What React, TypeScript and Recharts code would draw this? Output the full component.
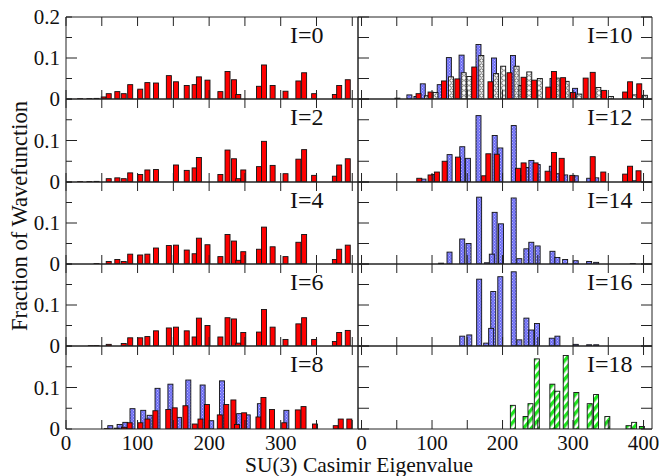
import React from "react";
import { BarChart, Bar, XAxis, YAxis } from "recharts";

type Pt = [number, number];
type Kind = "red" | "blue" | "white" | "green";

const SERIF = '"Liberation Serif", "Times New Roman", serif';

// axis ticks and labels
const xTicks = [0, 50, 100, 150, 200, 250, 300, 350, 400];
const yTicks = [0, 0.05, 0.1, 0.15, 0.2];
const leftXLabels = [0, 100, 200, 300];
const rightXLabels = [0, 100, 200, 300, 400];

// [Casimir eigenvalue, fraction]
const i0Red: Pt[] = [[20, 0.0008], [33, 0.001], [43, 0.0015], [53, 0.005], [60, 0.013], [72, 0.018], [81, 0.013], [90, 0.035], [104, 0.024], [114, 0.04], [126, 0.039], [144, 0.057], [154, 0.042], [169, 0.033], [180, 0.035], [186, 0.054], [198, 0.046], [216, 0.018], [226, 0.067], [235, 0.047], [241, 0.011], [270, 0.031], [277, 0.083], [289, 0.033], [307, 0.019], [325, 0.044], [333, 0.064], [347, 0.013], [376, 0.011], [382, 0.033], [394, 0.047]];
const i2Red: Pt[] = [[20, 0.0008], [33, 0.001], [43, 0.0015], [60, 0.008], [72, 0.01], [81, 0.008], [90, 0.022], [104, 0.018], [114, 0.029], [126, 0.03], [154, 0.041], [169, 0.028], [180, 0.034], [186, 0.059], [216, 0.018], [226, 0.077], [235, 0.056], [241, 0.008], [248, 0.029], [270, 0.037], [277, 0.098], [289, 0.04], [307, 0.02], [325, 0.055], [333, 0.078], [347, 0.016], [376, 0.014], [382, 0.041], [394, 0.056]];
const i4Red: Pt[] = [[43, 0.001], [60, 0.006], [72, 0.011], [81, 0.006], [90, 0.024], [104, 0.022], [114, 0.024], [126, 0.039], [144, 0.045], [154, 0.046], [169, 0.034], [180, 0.025], [186, 0.063], [198, 0.047], [216, 0.018], [226, 0.072], [235, 0.056], [241, 0.009], [248, 0.03], [270, 0.036], [277, 0.09], [289, 0.042], [307, 0.018], [325, 0.053], [333, 0.072], [376, 0.011], [382, 0.036], [394, 0.046]];
const i6Red: Pt[] = [[35, 0.0008], [43, 0.001], [60, 0.004], [81, 0.006], [90, 0.02], [104, 0.02], [114, 0.023], [126, 0.037], [144, 0.044], [154, 0.046], [169, 0.037], [180, 0.022], [186, 0.068], [198, 0.05], [216, 0.022], [226, 0.069], [235, 0.066], [241, 0.007], [248, 0.033], [270, 0.034], [277, 0.089], [289, 0.046], [307, 0.016], [325, 0.054], [333, 0.069], [347, 0.016], [376, 0.011], [382, 0.033], [394, 0.038]];
const i8Blue: Pt[] = [[62, 0.008], [75, 0.011], [83, 0.016], [93, 0.049], [108, 0.045], [117, 0.033], [128, 0.098], [146, 0.108], [158, 0.028], [171, 0.118], [191, 0.106], [203, 0.02], [218, 0.116], [242, 0.037], [254, 0.034], [271, 0.061], [308, 0.045]];
const i8Red: Pt[] = [[57, 0.001], [71, 0.002], [81, 0.004], [89, 0.015], [104, 0.015], [114, 0.024], [125, 0.044], [143, 0.047], [152, 0.051], [167, 0.056], [180, 0.012], [188, 0.024], [197, 0.059], [215, 0.034], [224, 0.059], [234, 0.07], [239, 0.011], [249, 0.039], [269, 0.029], [276, 0.076], [288, 0.047], [305, 0.015], [324, 0.046], [332, 0.054], [348, 0.012], [377, 0.008], [384, 0.024], [396, 0.024]];
const i10Blue: Pt[] = [[51, 0.002], [68, 0.01], [78, 0.006], [87, 0.037], [111, 0.035], [124, 0.101], [142, 0.107], [166, 0.133], [188, 0.1], [215, 0.106], [271, 0.05], [303, 0.026]];
const i10White: Pt[] = [[93, 0.008], [105, 0.016], [127, 0.054], [145, 0.064], [153, 0.055], [170, 0.106], [191, 0.062], [201, 0.08], [220, 0.08], [227, 0.033], [238, 0.066], [253, 0.05], [277, 0.051], [291, 0.043], [309, 0.012], [336, 0.028], [354, 0.006], [388, 0.01], [402, 0.009]];
const i10Red: Pt[] = [[81, 0.013], [98, 0.017], [117, 0.044], [136, 0.049], [160, 0.078], [183, 0.042], [210, 0.064], [230, 0.053], [245, 0.046], [265, 0.029], [273, 0.067], [286, 0.052], [300, 0.016], [318, 0.051], [328, 0.065], [344, 0.021], [374, 0.017], [381, 0.042], [394, 0.037]];
const i12Blue: Pt[] = [[88, 0.007], [103, 0.018], [125, 0.066], [143, 0.085], [151, 0.057], [166, 0.16], [189, 0.112], [197, 0.082], [216, 0.136], [224, 0.015], [234, 0.035], [241, 0.052], [250, 0.042], [270, 0.038], [277, 0.02], [289, 0.017], [304, 0.015], [323, 0.009], [333, 0.01], [387, 0.003]];
const i12Red: Pt[] = [[82, 0.009], [98, 0.017], [107, 0.024], [118, 0.05], [137, 0.06], [174, 0.015], [180, 0.068], [192, 0.067], [222, 0.033], [230, 0.046], [247, 0.046], [264, 0.026], [273, 0.071], [284, 0.057], [299, 0.016], [328, 0.061], [343, 0.024], [374, 0.019], [381, 0.038], [393, 0.027]];
const i14Blue: Pt[] = [[113, 0.002], [125, 0.029], [143, 0.061], [152, 0.05], [167, 0.163], [178, 0.003], [189, 0.126], [185, 0.024], [198, 0.098], [216, 0.161], [224, 0.013], [234, 0.037], [241, 0.053], [250, 0.044], [271, 0.031], [278, 0.016], [289, 0.011], [304, 0.008], [323, 0.006], [333, 0.004], [385, 0.001]];
const i16Blue: Pt[] = [[143, 0.024], [153, 0.027], [167, 0.163], [177, 0.007], [187, 0.133], [184, 0.043], [197, 0.169], [216, 0.181], [224, 0.015], [234, 0.068], [241, 0.039], [249, 0.055], [270, 0.019], [278, 0.024], [304, 0.004], [323, 0.003], [333, 0.003]];
const i18Green: Pt[] = [[215, 0.057], [233, 0.03], [240, 0.061], [249, 0.169], [271, 0.108], [278, 0.091], [290, 0.177], [305, 0.088], [324, 0.061], [333, 0.083], [349, 0.03], [379, 0.008], [387, 0.016], [398, 0.006]];

const FILL: Record<Kind, string> = {
  red: "#ff0000",
  blue: "url(#pBlue)",
  white: "url(#pCross)",
  green: "url(#pGreen)",
};
const ORDER: Kind[] = ["blue", "white", "green", "red"];

const panels: { label: string; col: number; row: number; series: Partial<Record<Kind, Pt[]>> }[] = [
  { label: "I=0", col: 0, row: 0, series: { red: i0Red } },
  { label: "I=2", col: 0, row: 1, series: { red: i2Red } },
  { label: "I=4", col: 0, row: 2, series: { red: i4Red } },
  { label: "I=6", col: 0, row: 3, series: { red: i6Red } },
  { label: "I=8", col: 0, row: 4, series: { blue: i8Blue, red: i8Red } },
  { label: "I=10", col: 1, row: 0, series: { blue: i10Blue, white: i10White, red: i10Red } },
  { label: "I=12", col: 1, row: 1, series: { blue: i12Blue, red: i12Red } },
  { label: "I=14", col: 1, row: 2, series: { blue: i14Blue } },
  { label: "I=16", col: 1, row: 3, series: { blue: i16Blue } },
  { label: "I=18", col: 1, row: 4, series: { green: i18Green } },
];

const COLS = [
  { left: 66, width: 292, domain: [0, 408] as [number, number], labelX: 290 },
  { left: 358, width: 294, domain: [-5, 412] as [number, number], labelX: 587 },
];
const rowTop = (r: number) => Math.round(17 + r * 82.3);
const PAD = 44;
const BW = 5;
const AX = "#222";

function BarShape(p: any) {
  const { x, y, width, height, payload } = p;
  if (!isFinite(x) || !isFinite(y) || !isFinite(height)) return <g />;
  const cx = x + (isFinite(width) ? width / 2 : 0);
  return (
    <rect
      x={cx - BW / 2}
      y={y}
      width={BW}
      height={Math.max(height, 0.5)}
      fill={FILL[payload.kind as Kind]}
      stroke="#111"
      strokeWidth={0.9}
    />
  );
}

function Panel({ col, row, series }: { col: number; row: number; series: Partial<Record<Kind, Pt[]>> }) {
  const c = COLS[col];
  const top = rowTop(row);
  const h = rowTop(row + 1) - top;
  const data: { x: number; y: number; kind: Kind }[] = [];
  ORDER.forEach((k) => (series[k] || []).forEach(([x, y]) => data.push({ x, y, kind: k })));
  const bottomLabels = row === 4 ? (col === 0 ? leftXLabels : rightXLabels) : [];

  const bottomTick = (p: any) => {
    const v = p.payload.value;
    return (
      <g>
        <line x1={p.x} x2={p.x} y1={p.y} y2={p.y - 9} stroke={AX} />
        {bottomLabels.includes(v) && (
          <text x={p.x} y={p.y + 21} textAnchor="middle" fontSize={21} fontFamily={SERIF} fill="#111">
            {v}
          </text>
        )}
      </g>
    );
  };
  const topTick = (p: any) => <line x1={p.x} x2={p.x} y1={p.y} y2={p.y + 9} stroke={AX} />;
  const leftTick = (p: any) => {
    const v = p.payload.value;
    const major = Math.abs(v - 0.1) < 1e-6;
    const len = col === 1 ? 11 : major ? 11 : 6;
    const showLabel = col === 0 && (v === 0 || major || (row === 0 && v === 0.2));
    return (
      <g>
        <line x1={p.x} x2={p.x + len} y1={p.y} y2={p.y} stroke={AX} />
        {showLabel && (
          <text x={p.x - 6} y={p.y} dy="0.34em" textAnchor="end" fontSize={21} fontFamily={SERIF} fill="#111">
            {v === 0 ? "0" : v.toFixed(1)}
          </text>
        )}
      </g>
    );
  };
  const rightTick = (p: any) =>
    col === 1 ? <line x1={p.x} x2={p.x - 11} y1={p.y} y2={p.y} stroke={AX} /> : <g />;

  return (
    <div style={{ position: "absolute", left: c.left - PAD, top: top - PAD }}>
      <BarChart
        width={c.width + 2 * PAD}
        height={h + 2 * PAD}
        data={data}
        margin={{ top: PAD - 1, right: PAD - 1, bottom: PAD - 1, left: PAD - 1 }}
      >
        <XAxis
          xAxisId="b"
          dataKey="x"
          type="number"
          domain={c.domain}
          ticks={xTicks}
          allowDataOverflow
          interval={0}
          height={1}
          tickSize={0}
          tickMargin={0}
          tickLine={false}
          axisLine={{ stroke: AX }}
          tick={bottomTick}
        />
        <XAxis
          xAxisId="t"
          orientation="top"
          dataKey="x"
          type="number"
          domain={c.domain}
          ticks={xTicks}
          allowDataOverflow
          interval={0}
          height={1}
          tickSize={0}
          tickMargin={0}
          tickLine={false}
          axisLine={{ stroke: AX }}
          tick={topTick}
        />
        <YAxis
          yAxisId="l"
          type="number"
          domain={[0, 0.2]}
          ticks={yTicks}
          allowDataOverflow
          interval={0}
          width={1}
          tickSize={0}
          tickMargin={0}
          tickLine={false}
          axisLine={{ stroke: AX }}
          tick={leftTick}
        />
        <YAxis
          yAxisId="r"
          orientation="right"
          type="number"
          domain={[0, 0.2]}
          ticks={yTicks}
          allowDataOverflow
          interval={0}
          width={1}
          tickSize={0}
          tickMargin={0}
          tickLine={false}
          axisLine={{ stroke: AX }}
          tick={rightTick}
        />
        <Bar xAxisId="b" yAxisId="l" dataKey="y" barSize={BW} isAnimationActive={false} shape={BarShape} />
      </BarChart>
    </div>
  );
}

export default function App() {
  return (
    <div style={{ position: "absolute", left: 0, top: 0, width: 659, height: 476, background: "#fff", overflow: "hidden" }}>
      <svg width={0} height={0} style={{ position: "absolute" }}>
        <defs>
          <pattern id="pBlue" width="3" height="3" patternUnits="userSpaceOnUse">
            <rect width="3" height="3" fill="#6e6ef4" />
            <rect x="0" y="0" width="1" height="1" fill="#b8b8ff" />
            <rect x="1.5" y="1.5" width="1" height="1" fill="#b8b8ff" />
          </pattern>
          <pattern id="pCross" width="5" height="5" patternUnits="userSpaceOnUse">
            <rect width="5" height="5" fill="#fff" />
            <circle cx="2.5" cy="2.5" r="1.7" fill="none" stroke="#444" strokeWidth="0.8" />
          </pattern>
          <pattern id="pGreen" width="6" height="6" patternUnits="userSpaceOnUse" patternTransform="rotate(40)">
            <rect width="6" height="6" fill="#fff" />
            <rect width="3.4" height="6" fill="#1ee61e" />
          </pattern>
        </defs>
      </svg>
      {panels.map((p) => (
        <Panel key={p.label} col={p.col} row={p.row} series={p.series} />
      ))}
      <svg width={659} height={476} style={{ position: "absolute", left: 0, top: 0, pointerEvents: "none" }}>
        {panels.map((p) => (
          <text key={p.label} x={COLS[p.col].labelX} y={rowTop(p.row) + 26} fontSize={24} fontFamily={SERIF} fill="#111">
            {p.label}
          </text>
        ))}
        <text x={359} y={472} textAnchor="middle" fontSize={21.5} fontFamily={SERIF} fill="#111">
          SU(3) Casimir Eigenvalue
        </text>
        <text
          x={0}
          y={0}
          transform="translate(27 216) rotate(-90)"
          textAnchor="middle"
          fontSize={22.5}
          fontFamily={SERIF}
          fill="#111"
        >
          Fraction of Wavefunction
        </text>
      </svg>
    </div>
  );
}
